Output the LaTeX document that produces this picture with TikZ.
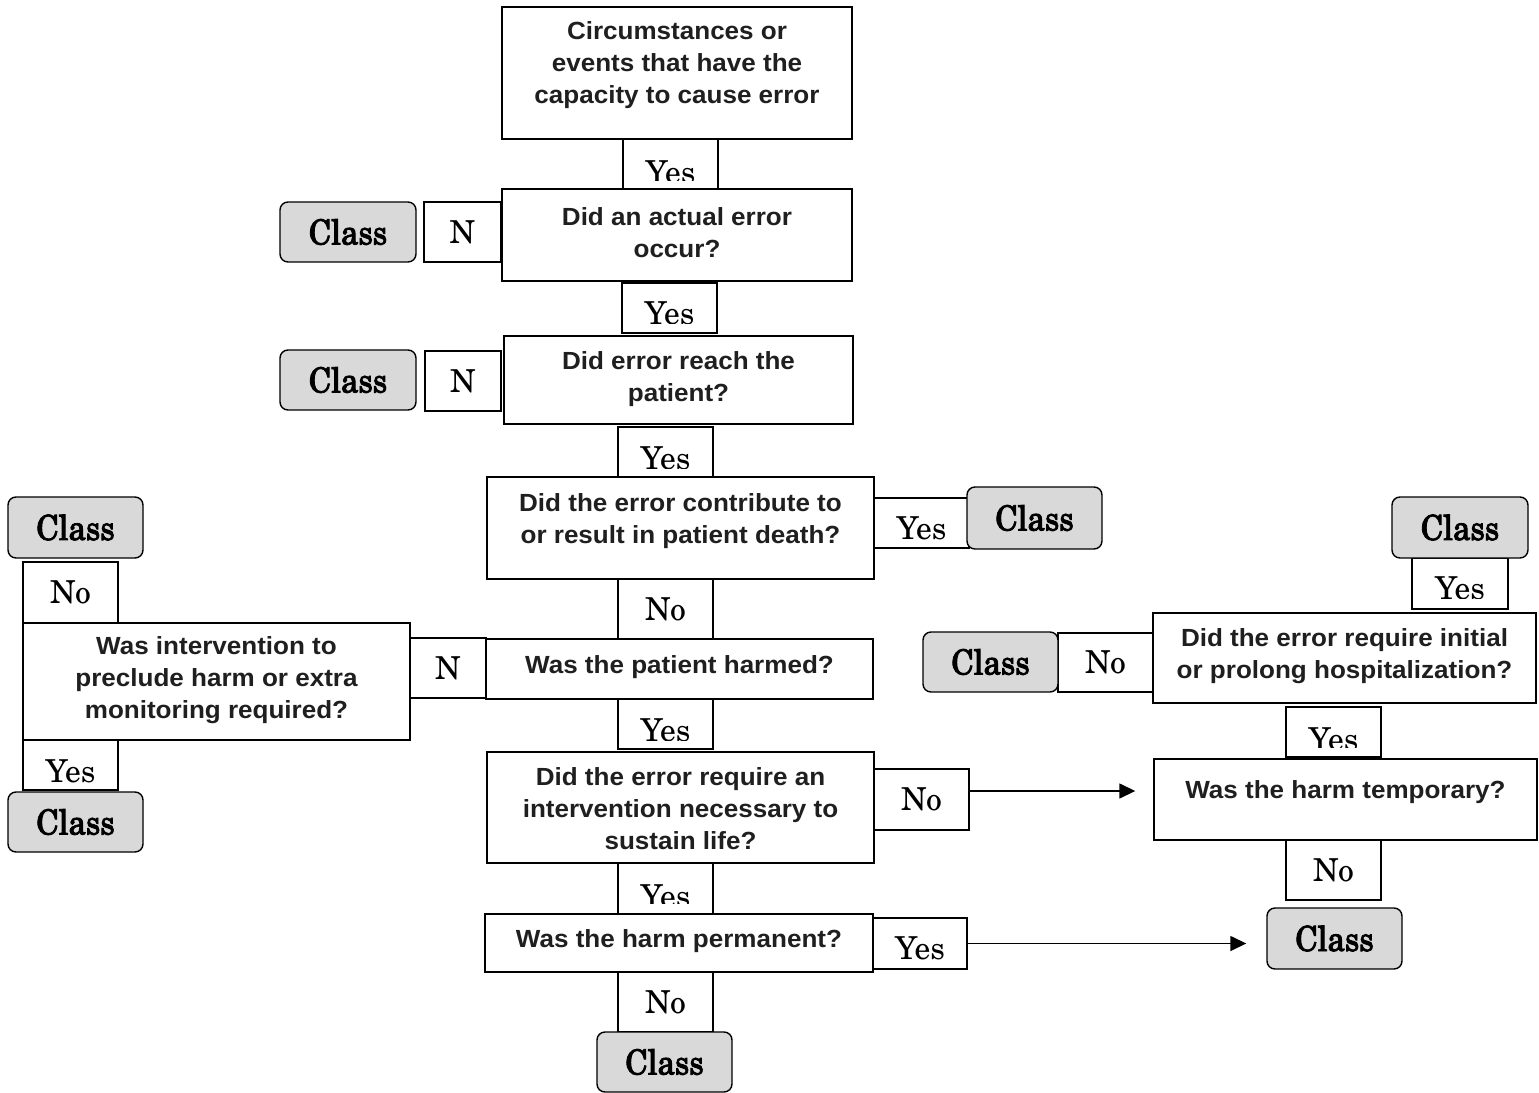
\documentclass[tikz,border=0pt]{standalone}
\usepackage{fontspec}
\newfontfamily\qfont{Liberation Sans}[FakeStretch=1.05]
\newfontfamily\lfont{TeX Gyre Schola}
\newfontfamily\cfont{TeX Gyre Schola}[FakeStretch=0.9, FakeBold=2.5]
\usetikzlibrary{arrows.meta}
\begin{document}
\begin{tikzpicture}[x=0.5pt,y=-0.5pt,
  box/.style n args={4}{at={({(#1+#3)/2},{(#2+#4)/2})},
     minimum width={(#3-#1)*0.5pt}, minimum height={(#4-#2)*0.5pt}},
  qbox/.style={draw, fill=white, line width=0.7pt, inner sep=0pt},
  qtext/.style={font=\qfont\bfseries\fontsize{12.4}{16}\selectfont, text=black!88, align=center, inner sep=0pt},
  lbl/.style={draw, fill=white, line width=0.6pt, inner sep=0pt, font=\lfont\fontsize{15.8}{18}\selectfont},
  cls/.style={draw, fill=black!15, line width=0.7pt, rounded corners=4pt, inner sep=0pt, font=\cfont\fontsize{17.3}{20}\selectfont},
  clipyes/.style 2 args={path picture={
     \clip ([yshift=#2]path picture bounding box.south west) rectangle (path picture bounding box.north east);
     \node[inner sep=0pt, font=\lfont\fontsize{15.8}{18}\selectfont] at ([yshift=#1]path picture bounding box.center) {Yes};}},
  arr/.style={-{Triangle[length=8pt,width=7.5pt]}, line width=0.75pt}
]
\useasboundingbox (0,0) rectangle (1539,1093);

% ---- main question boxes ----
\node[qbox, box={502}{7}{852}{139}, label={[qtext, yshift=4pt]center:{Circumstances or\\events that have the\\capacity to cause error}}] (q0) {};
\node[qbox, box={502}{189}{852}{281}, label={[qtext, yshift=1.25pt]center:{Did an actual error\\occur?}}] (q1) {};
\node[qbox, box={504}{336}{853}{424}, label={[qtext, yshift=0.5pt]center:{Did error reach the\\patient?}}] (q2) {};
\node[qbox, box={487}{477}{874}{579}, label={[qtext, yshift=3.5pt]center:{Did the error contribute to\\or result in patient death?}}] (q3) {};
\node[qbox, box={486}{639}{873}{699}, label={[qtext, yshift=1pt]center:{Was the patient harmed?}}] (q4) {};
\node[qbox, box={487}{752}{874}{863}, label={[qtext, yshift=-0.75pt]center:{Did the error require an\\intervention necessary to\\sustain life?}}] (q5) {};
\node[qbox, box={485}{914}{873}{972}, label={[qtext, yshift=1pt]center:{Was the harm permanent?}}] (q6) {};
\node[qbox, box={23}{623}{410}{740}, label={[qtext, yshift=0.5pt]center:{Was intervention to\\preclude harm or extra\\monitoring required?}}] (ql) {};
\node[qbox, box={1153}{613}{1536}{703}, label={[qtext, yshift=0.75pt]center:{Did the error require initial\\or prolong hospitalization?}}] (qh) {};
\node[qbox, box={1154}{759}{1537}{840}, label={[qtext, yshift=3.75pt]center:{Was the harm temporary?}}] (qt) {};

% ---- answer labels ----
\node[lbl, box={623}{139}{718}{189}, clipyes={-4pt}{4.5pt}] (y1) {};
\node[lbl, box={622}{283}{717}{333}, clipyes={-2.5pt}{5pt}] (y2) {};
\node[lbl, box={618}{427}{713}{477}, clipyes={-3pt}{4.5pt}] (y3) {};
\node[lbl, box={874}{498}{969}{548}, clipyes={-2.5pt}{4.5pt}] (y4) {};
\node[lbl, box={618}{699}{713}{749}, clipyes={-3pt}{4.5pt}] (y7) {};
\node[lbl, box={618}{863}{713}{914}, clipyes={-3.75pt}{5.5pt}] (y9) {};
\node[lbl, box={873}{918}{967}{969}, clipyes={-2.25pt}{5pt}] (y10) {};
\node[lbl, box={23}{740}{118}{790}, clipyes={-3pt}{4pt}] (yl) {};
\node[lbl, box={1412}{558}{1508}{609}, clipyes={-2.25pt}{5.5pt}] (yh) {};
\node[lbl, box={1286}{707}{1381}{757}, clipyes={-3.5pt}{5pt}] (yt) {};

\node[lbl, box={424}{202}{501}{262}] (n1) {N};
\node[lbl, box={425}{351}{501}{411}] (n2) {N};
\node[lbl, box={618}{579}{713}{639}] (n5) {No};
\node[lbl, box={410}{638}{486}{698}] (n6) {\raisebox{-0.75pt}{N}};
\node[lbl, box={23}{562}{118}{623}] (nl) {No};
\node[lbl, box={874}{769}{969}{830}] (n8) {No};
\node[lbl, box={618}{972}{713}{1032}] (n11) {\raisebox{-1.5pt}{No}};
\node[lbl, box={1058}{633}{1153}{692}] (nh) {No};
\node[lbl, box={1286}{840}{1381}{900}] (nt) {\raisebox{-1.25pt}{No}};

% ---- class boxes ----
\node[cls, box={280}{202}{416}{262}] (c1) {\raisebox{-0.75pt}{Class}};
\node[cls, box={280}{350}{416}{410}] (c2) {\raisebox{-0.75pt}{Class}};
\node[cls, box={967}{487}{1102}{549}] (c4) {\raisebox{-0.75pt}{Class}};
\node[cls, box={8}{497}{143}{558}] (cl1) {\raisebox{-0.75pt}{Class}};
\node[cls, box={8}{792}{143}{852}] (cl2) {\raisebox{-0.75pt}{Class}};
\node[cls, box={923}{632}{1058}{692}] (ch1) {\raisebox{-0.75pt}{Class}};
\node[cls, box={1392}{497}{1528}{558}] (ch2) {\raisebox{-0.75pt}{Class}};
\node[cls, box={1267}{908}{1402}{969}] (c10) {\raisebox{-0.75pt}{Class}};
\node[cls, box={597}{1032}{732}{1092}] (c11) {\raisebox{-0.75pt}{Class}};

% ---- arrows ----
\draw[arr, shorten >=9pt] ([yshift=4.25pt]n8.east) -- ([yshift=4.25pt]n8.east -| qt.west);
\draw[arr, shorten >=10pt] (y10.east) -- (y10.east -| c10.west);
\end{tikzpicture}
\end{document}
